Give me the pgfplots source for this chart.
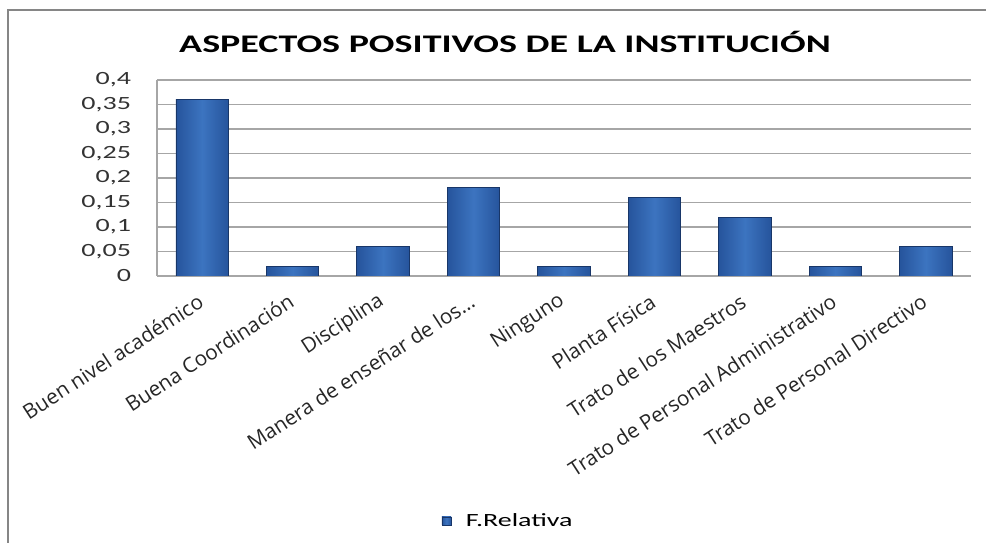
\documentclass[border=0pt]{standalone}
\usepackage{pgfplots}
\pgfplotsset{compat=1.18}
\usepackage{fontspec}
\setmainfont{Carlito}[FakeStretch=1.5]
\newfontfamily\labelfont{Open Sans}
\definecolor{barlight}{RGB}{60,116,192}
\definecolor{barside}{RGB}{38,84,156}
\definecolor{barblue}{RGB}{48,100,175}
\definecolor{baredge}{RGB}{24,54,104}
\definecolor{gridgray}{RGB}{166,166,166}
\definecolor{framegray}{RGB}{134,134,134}
\tikzset{mybar/.style={draw=baredge, line width=0.6pt, left color=barside, right color=barside, middle color=barlight}}
\begin{document}
\begin{tikzpicture}
\path[use as bounding box] (0,0) rectangle (739.5pt,407.25pt);
\draw[framegray, line width=1.5pt] (6pt,0) -- (6pt,399.5pt) -- (739.5pt,399.5pt);
\node[font=\fontsize{19}{23}\selectfont\bfseries] at (378.75pt,376pt) {ASPECTOS POSITIVOS DE LA INSTITUCIÓN};
\begin{axis}[
  at={(117.75pt,200.25pt)}, anchor=south west,
  width=610.5pt, height=147pt, scale only axis,
  ymin=0, ymax=0.4, ytick={0,0.05,...,0.4},
  xmin=-0.5, xmax=8.5,
  xtick={0,...,8},
  xticklabels={Buen nivel académico, Buena Coordinación, Disciplina, Manera de enseñar de los…, Ninguno, Planta Física, Trato de los Maestros, Trato de Personal Administrativo, Trato de Personal Directivo},
  xticklabel style={anchor=east, rotate=33, font=\labelfont\fontsize{15.5}{18}\selectfont, text=black!85, inner sep=1pt},
  xticklabel shift=17pt,
  yticklabel style={font=\fontsize{14}{16}\selectfont, text=black!80, xshift=-16pt},
  /pgf/number format/assume math mode=true,
  /pgf/number format/use comma,
  /pgf/number format/fixed,
  /pgf/number format/precision=2,
  ymajorgrids, grid style={gridgray, line width=0.8pt},
  axis line style={gridgray, line width=0.8pt},
  axis x line*=bottom, axis y line*=left,
  separate axis lines,
  x axis line style={-}, y axis line style={-},
  major tick length=0pt,
  ybar, bar width=0.58, bar shift=0pt,
  legend style={at={(0.435,-1.25)}, anchor=center, draw=none, font=\fontsize{14}{16}\selectfont, legend cell align=left, nodes={inner xsep=6pt}},
  legend image code/.code={\fill[barblue, draw=baredge, line width=0.4pt] (0pt,-3pt) rectangle (7pt,3pt); \path[draw=none,fill=none] (0pt,0pt) -- (12pt,0pt);},
]
\addplot[mybar] coordinates {(0,0.36)};
\addlegendentry{F.Relativa}
\addplot[mybar] coordinates {(1,0.02)};
\addplot[mybar] coordinates {(2,0.06)};
\addplot[mybar] coordinates {(3,0.18)};
\addplot[mybar] coordinates {(4,0.02)};
\addplot[mybar] coordinates {(5,0.16)};
\addplot[mybar] coordinates {(6,0.12)};
\addplot[mybar] coordinates {(7,0.02)};
\addplot[mybar] coordinates {(8,0.06)};
\end{axis}
\end{tikzpicture}
\end{document}
